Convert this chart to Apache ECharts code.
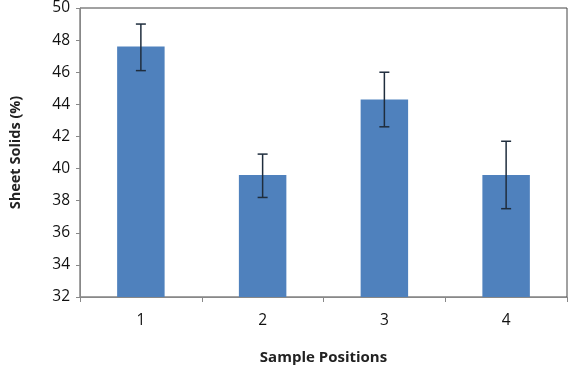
<!DOCTYPE html>
<html><head><meta charset="utf-8">
<script src="https://cdn.jsdelivr.net/npm/echarts@6/dist/echarts.min.js"></script>
<style>html,body{margin:0;padding:0;background:#fff}#c{width:576px;height:370px}</style>
</head><body><div id="c"></div>
<script>
const categories = ['1', '2', '3', '4'];
const values = [47.6, 39.6, 44.3, 39.6];
const errLow = [46.1, 38.2, 42.6, 37.5];
const errHigh = [49.0, 40.9, 46.0, 41.7];
const yTicks = [32, 34, 36, 38, 40, 42, 44, 46, 48, 50];

const chart = echarts.init(document.getElementById('c'), null, {renderer: 'canvas'});
const font = '"Open Sans", Lato, sans-serif';
chart.setOption({
  animation: false,
  backgroundColor: '#fff',
  grid: {left: 78, right: 9, top: 7, bottom: 72, show: true, borderColor: '#444', borderWidth: 1},
  xAxis: {
    type: 'category', data: categories,
    name: 'Sample Positions', nameLocation: 'middle', nameGap: 53,
    nameTextStyle: {fontFamily: font, fontSize: 15, fontWeight: 'bold', color: '#222'},
    axisLine: {lineStyle: {color: '#888'}},
    axisTick: {show: true, length: 5, lineStyle: {color: '#888'}},
    axisLabel: {fontFamily: font, fontSize: 15.5, color: '#111', margin: 16}
  },
  yAxis: {
    type: 'value', min: yTicks[0], max: yTicks[yTicks.length - 1], interval: 2,
    name: 'Sheet Solids (%)', nameLocation: 'middle', nameGap: 57,
    nameTextStyle: {fontFamily: font, fontSize: 14.5, fontWeight: 'bold', color: '#222'},
    axisLine: {show: true, lineStyle: {color: '#888'}},
    axisTick: {show: true, length: 4, lineStyle: {color: '#888'}},
    axisLabel: {fontFamily: font, fontSize: 15.5, color: '#111', margin: 10},
    splitLine: {show: false}
  },
  series: [
    {type: 'bar', data: values, barWidth: '39%', itemStyle: {color: '#4f81bd'}},
    {
      type: 'custom', z: 10,
      data: categories.map((c, i) => [i, errLow[i], errHigh[i]]),
      renderItem: function (params, api) {
        const lo = api.coord([api.value(0), api.value(1)]);
        const hi = api.coord([api.value(0), api.value(2)]);
        const w = 5;
        const st = {stroke: '#1f2d3d', lineWidth: 1.5};
        return {type: 'group', children: [
          {type: 'line', shape: {x1: hi[0], y1: hi[1], x2: lo[0], y2: lo[1]}, style: st},
          {type: 'line', shape: {x1: hi[0] - w, y1: hi[1], x2: hi[0] + w, y2: hi[1]}, style: st},
          {type: 'line', shape: {x1: lo[0] - w, y1: lo[1], x2: lo[0] + w, y2: lo[1]}, style: st}
        ]};
      }
    }
  ]
});
</script></body></html>
